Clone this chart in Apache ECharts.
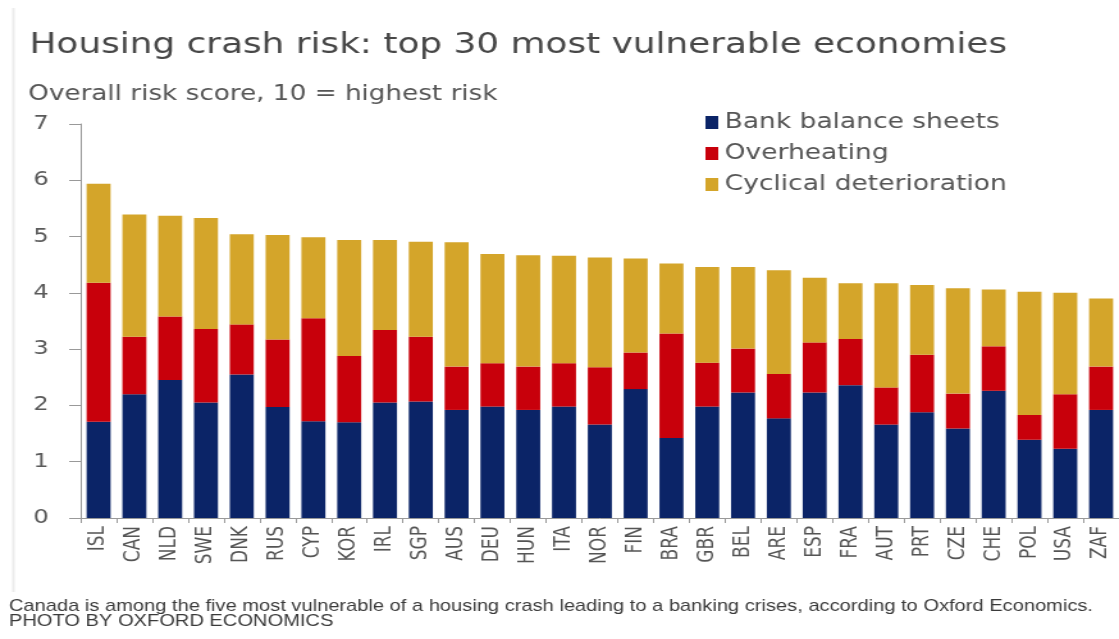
<!DOCTYPE html>
<html>
<head>
<meta charset="utf-8">
<title>Housing crash risk</title>
<script src="https://cdn.jsdelivr.net/npm/echarts@6/dist/echarts.min.js"></script>
<style>
  html, body { margin: 0; padding: 0; background: #fff; overflow: hidden; }
  /* the source picture is stretched sideways, so draw narrow and stretch */
  #main { width: 874px; height: 639px; transform: scaleX(1.2803); transform-origin: 0 0; }
</style>
</head>
<body>
<div id="main"></div>
<script>
var countries = ["ISL", "CAN", "NLD", "SWE", "DNK", "RUS", "CYP", "KOR", "IRL", "SGP",
  "AUS", "DEU", "HUN", "ITA", "NOR", "FIN", "BRA", "GBR", "BEL", "ARE",
  "ESP", "FRA", "AUT", "PRT", "CZE", "CHE", "POL", "USA", "ZAF"];

// segment sizes
var bankBalance = [1.71, 2.20, 2.45, 2.05, 2.55, 1.97, 1.72, 1.70, 2.05, 2.07,
  1.92, 1.98, 1.92, 1.98, 1.66, 2.29, 1.42, 1.98, 2.23, 1.77,
  2.23, 2.36, 1.66, 1.88, 1.59, 2.26, 1.39, 1.23, 1.92];
var overheating = [2.47, 1.02, 1.13, 1.31, 0.89, 1.20, 1.83, 1.18, 1.29, 1.15,
  0.77, 0.77, 0.77, 0.77, 1.02, 0.65, 1.86, 0.78, 0.78, 0.79,
  0.89, 0.82, 0.66, 1.02, 0.62, 0.79, 0.44, 0.97, 0.77];
var cyclical = [1.76, 2.17, 1.79, 1.97, 1.60, 1.86, 1.44, 2.06, 1.60, 1.69,
  2.21, 1.94, 1.98, 1.91, 1.95, 1.67, 1.24, 1.70, 1.45, 1.84,
  1.15, 0.99, 1.85, 1.24, 1.87, 1.01, 2.19, 1.80, 1.21];

var seriesNames = ["Bank balance sheets", "Overheating", "Cyclical deterioration"];
var colors = ["#0b2467", "#c8000b", "#d4a52a"];

var myChart = echarts.init(document.getElementById("main"));

var option = {
  animation: false,
  color: colors,
  textStyle: { fontFamily: "DejaVu Sans" },
  title: [
    {
      text: "Housing crash risk: top 30 most vulnerable economies",
      left: 18,
      top: 27,
      textStyle: { fontSize: 28, fontWeight: "normal", color: "#474747" }
    },
    {
      text: "Overall risk score, 10 = highest risk",
      left: 17,
      top: 79,
      textStyle: { fontSize: 20.5, fontWeight: "normal", color: "#555" }
    },
    {
      text: "Canada is among the five most vulnerable of a housing crash leading to a banking crises, according to Oxford Economics.\nPHOTO BY OXFORD ECONOMICS",
      left: 2,
      top: 594,
      textStyle: {
        fontFamily: "Liberation Sans",
        fontSize: 15.7,
        lineHeight: 15,
        fontWeight: "normal",
        color: "#3a3a3a"
      }
    }
  ],
  legend: {
    orient: "vertical",
    left: 546,
    top: 107,
    icon: "rect",
    itemWidth: 10,
    itemHeight: 13,
    itemGap: 10,
    data: seriesNames,
    textStyle: { fontSize: 20.7, color: "#555", lineHeight: 21 }
  },
  graphic: [
    {
      type: "line",
      shape: { x1: 10.5, y1: 8, x2: 10.5, y2: 592 },
      style: { stroke: "#ececec", lineWidth: 2 },
      silent: true
    }
  ],
  grid: { left: 63, top: 124, width: 813, height: 394 },
  xAxis: {
    type: "category",
    data: countries,
    axisLine: { lineStyle: { color: "#999" } },
    axisTick: { show: true, length: 5, lineStyle: { color: "#999" } },
    axisLabel: { rotate: 90, interval: 0, margin: 8, fontSize: 17, color: "#555" }
  },
  yAxis: {
    type: "value",
    min: 0,
    max: 7,
    interval: 1,
    axisLine: { show: true, lineStyle: { color: "#999" } },
    axisTick: { show: true, length: 9, lineStyle: { color: "#999" } },
    axisLabel: { margin: 25, fontSize: 19, color: "#5a5a5a" },
    splitLine: { show: false }
  },
  series: [
    { name: seriesNames[0], type: "bar", stack: "risk", barWidth: "67%", data: bankBalance },
    { name: seriesNames[1], type: "bar", stack: "risk", barWidth: "67%", data: overheating },
    { name: seriesNames[2], type: "bar", stack: "risk", barWidth: "67%", data: cyclical }
  ]
};

myChart.setOption(option);
</script>
</body>
</html>
